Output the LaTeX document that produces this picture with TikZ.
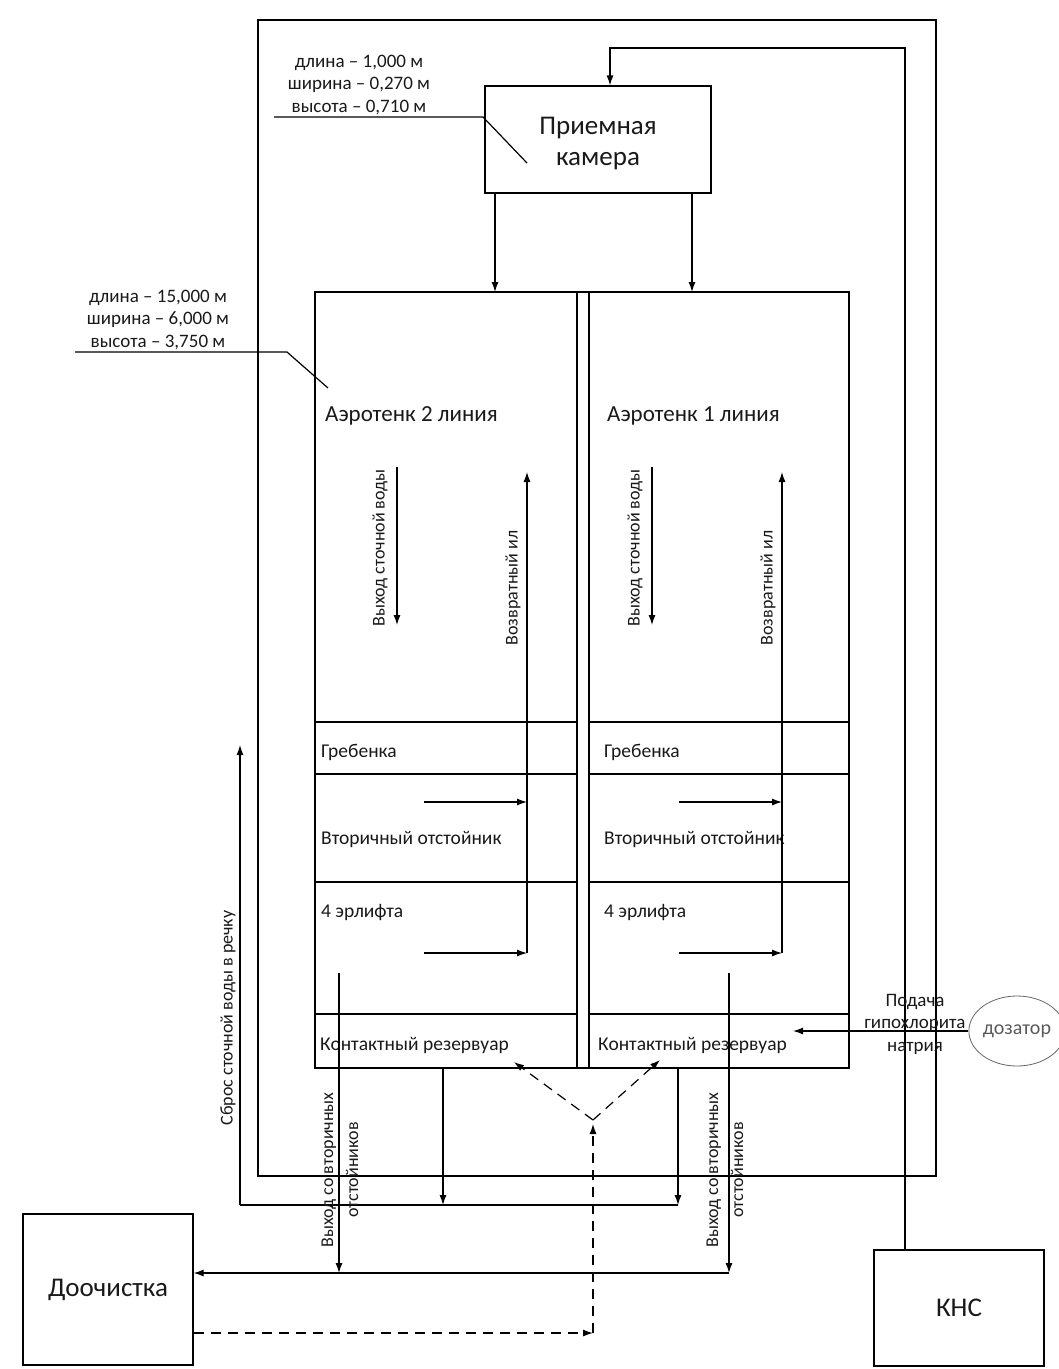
\documentclass[tikz,border=0pt]{standalone}
\usepackage{fontspec}
\setmainfont{Carlito}
\usetikzlibrary{arrows.meta,positioning,calc,shapes.geometric}

\tikzset{
  line/.style={line width=1.2pt},
  pipe/.style={line width=1.2pt,-{Latex[length=10pt,width=7pt]}},
  dpipe/.style={pipe,dash pattern=on 10pt off 7pt},
  box/.style={draw,line width=1.2pt,inner sep=0pt,font=\fontsize{27}{31}\selectfont,align=center},
  dimlbl/.style={font=\fontsize{19}{22.5}\selectfont,align=center,inner sep=0pt},
  title/.style={font=\fontsize{23}{27}\selectfont,anchor=west,inner sep=0pt},
  cell/.style={font=\fontsize{19.5}{22}\selectfont,anchor=west,inner sep=0pt},
  vlbl/.style={font=\fontsize{18}{25}\selectfont,rotate=90,inner sep=0pt,align=center},
}

\begin{document}
\begin{tikzpicture}[x=1pt,y=-1pt,text=black!90]
\useasboundingbox (0,0) rectangle (1059,1369);

% outer pipe loop
\draw[line] (258,20) rectangle (936,1176);

% receiving chamber
\node[box,minimum width=226pt,minimum height=107pt] (cam) at (598,139.5) {\\[-6pt]Приемная\\камера};
\node[dimlbl] (dim1) at (359,85) {длина – 1,000 м\\ширина – 0,270 м\\высота – 0,710 м};
\coordinate (d1a) at (274,117);
\coordinate (d1b) at (483,117);
\coordinate (d1c) at (527,163);
\draw[line] (d1a) -- (d1b) -- (d1c);

% aeration tanks
\draw[line] (315,292) rectangle (849,1068);
\draw[line] (577,292) -- (577,1068);
\draw[line] (589,292) -- (589,1068);
\foreach \y in {722,774,882,1014}{
  \draw[line] (315,\y) -- (577,\y);
  \draw[line] (589,\y) -- (849,\y);
}
\node[dimlbl] (dim2) at (158,320) {длина – 15,000 м\\ширина – 6,000 м\\высота – 3,750 м};
\coordinate (d2a) at (75,352);
\coordinate (d2b) at (287,352);
\coordinate (d2c) at (328,388);
\draw[line] (d2a) -- (d2b) -- (d2c);

\node[title] (t2) at (325,416) {Аэротенк 2 линия};
\node[title] (t1) at (607,416) {Аэротенк 1 линия};

\node[cell] (grb2) at (321,752) {Гребенка};
\node[cell] (grb1) at (604,752) {Гребенка};
\node[cell] (vo2) at (321,839) {Вторичный отстойник};
\node[cell] (vo1) at (604,839) {Вторичный отстойник};
\node[cell] (el2) at (321,913) {4 эрлифта};
\node[cell] (el1) at (604,913) {4 эрлифта};
\node[cell] (kr2) at (320,1045) {Контактный резервуар};
\node[cell] (kr1) at (598,1045) {Контактный резервуар};

% inflow from chamber
\coordinate (in2) at (495,292);
\coordinate (in1) at (692,292);
\draw[pipe] (cam.south -| in2) -- (in2);
\draw[pipe] (cam.south -| in1) -- (in1);

% flows inside the lines
\foreach \dx/\n in {0/2,255/1}{
  \coordinate (s\n a) at (397+\dx,467);
  \coordinate (s\n b) at (397+\dx,625);
  \coordinate (r\n top) at (527+\dx,472);
  \coordinate (r\n bot) at (527+\dx,953);
  \coordinate (r\n mid) at (527+\dx,802);
  \coordinate (h\n a) at (424+\dx,802);
  \coordinate (h\n b) at (424+\dx,953);
  \draw[pipe] (s\n a) -- (s\n b);
  \draw[pipe] (r\n bot) -- (r\n top);
  \draw[pipe] (h\n a) -- (r\n mid);
  \draw[pipe] (h\n b) -- (r\n bot);
  \node[vlbl] (sl\n) at (380+\dx,548) {Выход сточной воды};
  \node[vlbl] (rl\n) at (513+\dx,588) {Возвратный ил};
}

% pump station feed
\node[box,minimum width=170pt,minimum height=116pt] (kns) at (959,1308) {КНС};
\coordinate (knsup) at (905,48);
\draw[pipe] (kns.north -| knsup) -- (knsup) -| ($(cam.north)+(12,0)$);

% post treatment
\node[box,minimum width=170pt,minimum height=151pt] (doo) at (108,1289.5) {Доочистка};

% discharge to river
\coordinate (c2out) at (443,1068);
\coordinate (c1out) at (678,1068);
\coordinate (dis) at (240,1205);
\coordinate (distop) at (240,745);
\draw[line] (c1out |- dis) -- (dis);
\draw[pipe] (dis) -- (distop);
\draw[pipe] (c2out) -- (c2out |- dis);
\draw[pipe] (c1out) -- (c1out |- dis);
\node[vlbl] (sbr) at (228,1018) {Сброс сточной воды в речку};

% outlet of secondary clarifiers
\coordinate (o2) at (339,973);
\coordinate (o1) at (729,973);
\coordinate (post) at (729,1273);
\draw[pipe] (o2) -- (o2 |- post);
\draw[pipe] (o1) -- (post);
\draw[pipe] (post) -- (post -| doo.east);
\node[vlbl] (ol2) at (340,1170) {Выход со вторичных\\отстойников};
\node[vlbl] (ol1) at (725,1170) {Выход со вторичных\\отстойников};

% dashed return
\coordinate (dv) at (593,1333);
\coordinate (apex) at (593,1120);
\coordinate (k2in) at (514,1062);
\coordinate (k1in) at (660,1060);
\draw[dpipe] (doo.east |- dv) -- (dv);
\draw[dpipe] (dv) -- ($(apex)+(0,4)$);
\draw[dpipe] (apex) -- (k2in);
\draw[dpipe] (apex) -- (k1in);

% hypochlorite dosing
\node[draw=black!60,line width=0.8pt,ellipse,minimum width=84pt,minimum height=70pt,inner sep=0pt,font=\fontsize{20}{24}\selectfont,text=black!65] (dos) at (1017,1031) {дозатор};
\coordinate (dosin) at (793,1031);
\draw[pipe] (dos.west) -- (dosin);
\node[dimlbl] (hyp) at (915,1024) {Подача\\гипохлорита\\натрия};
\end{tikzpicture}
\end{document}
